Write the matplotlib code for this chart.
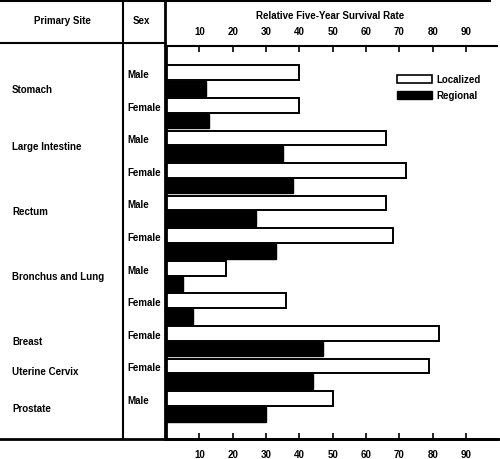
import matplotlib.pyplot as plt
from matplotlib.patches import Patch
from matplotlib.transforms import blended_transform_factory

plt.rcParams['font.family'] = ['Liberation Sans', 'DejaVu Sans']
plt.rcParams['font.weight'] = 'bold'

# data
sites = ['Stomach', 'Large Intestine', 'Rectum', 'Bronchus and Lung',
         'Breast', 'Uterine Cervix', 'Prostate']
site_rows = [0.25, 2.0, 4.0, 6.0, 8.0, 8.9, 10.05]
sexes = ['Male', 'Female', 'Male', 'Female', 'Male', 'Female',
         'Male', 'Female', 'Female', 'Female', 'Male']
localized = [40, 40, 66, 72, 66, 68, 18, 36, 82, 79, 50]
regional = [12, 13, 35, 38, 27, 33, 5, 8, 47, 44, 30]
ticks = [10, 20, 30, 40, 50, 60, 70, 80, 90]

fs = 7
fig = plt.figure(figsize=(5, 4.6), dpi=100)

# table frame drawn in pixel coordinates
tab = fig.add_axes([0, 0, 1, 1])
tab.set_xlim(0, 500)
tab.set_ylim(460, 0)
tab.axis('off')
tab.plot([0, 490], [1.5, 1.5], color='black', lw=1.5)
tab.plot([0, 165], [44, 44], color='black', lw=1.5)
tab.plot([0, 500], [440, 440], color='black', lw=2)
tab.plot([123, 123], [0, 440], color='black', lw=1.5)
tab.plot([165, 165], [0, 440], color='black', lw=2)
tab.text(62, 21, 'Primary Site', ha='center', va='center', fontsize=fs)
tab.text(141, 21, 'Sex', ha='center', va='center', fontsize=fs)
tab.text(330, 16, 'Relative Five-Year Survival Rate', ha='center',
         va='center', fontsize=fs)

# bars
ax = fig.add_axes([166 / 500, 1 - 440 / 460, 331 / 500, 393 / 460])
ax.patch.set_alpha(0)
rows = list(range(len(sexes)))
h = 0.45
ax.barh([r - 0.24 for r in rows], localized, height=h, color='white',
        edgecolor='black', linewidth=1.4, label='Localized')
ax.barh([r + 0.24 for r in rows], regional, height=h, color='black',
        edgecolor='black', linewidth=1.0, label='Regional')
ax.set_xlim(0, 99.3)
ax.set_ylim(11.0, -1.06)
ax.set_yticks([])
ax.set_xticks(ticks)
ax.tick_params(axis='x', direction='in', top=True, bottom=True,
               labeltop=True, labelbottom=True, length=4, width=1.2,
               pad=7, labelsize=fs)
ax.spines['right'].set_visible(False)
ax.spines['left'].set_linewidth(2)
ax.spines['top'].set_linewidth(1.5)
ax.spines['bottom'].set_linewidth(2)

handles = [Patch(facecolor='white', edgecolor='black', linewidth=1.2),
           Patch(facecolor='black', edgecolor='black')]
ax.legend(handles, ['Localized', 'Regional'], loc='upper left',
          bbox_to_anchor=(0.67, 0.95), frameon=False, fontsize=fs,
          handlelength=3.6, handleheight=0.9, handletextpad=0.5,
          labelspacing=0.6)

# row labels
tr = blended_transform_factory(tab.transData, ax.transData)
for r, s in zip(rows, sexes):
    tab.text(127, r - 0.2, s, transform=tr, ha='left', va='center',
             fontsize=fs)
for y, s in zip(site_rows, sites):
    tab.text(12, y, s, transform=tr, ha='left', va='center', fontsize=fs)

fig.savefig('out.png', dpi=100)
